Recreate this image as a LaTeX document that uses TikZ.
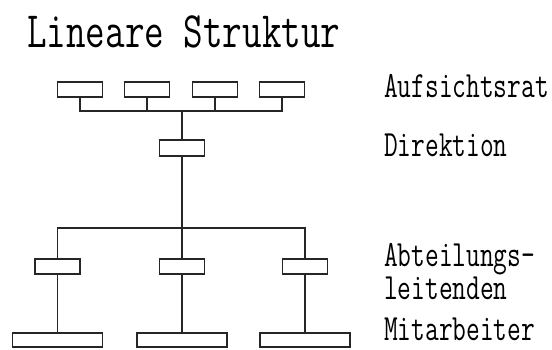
\documentclass[tikz,border=0pt]{standalone}
\usepackage{fontspec}
\tikzset{
  unit/.style={draw=black!85, line width=1.2pt, minimum height=15pt, inner sep=0pt, outer sep=0pt},
  small/.style={unit, minimum width=45pt},
  wide/.style={unit, minimum width=90pt, minimum height=14pt},
  link/.style={draw=black!85, line width=1.2pt},
  caption/.style={anchor=base west, inner sep=0pt, align=left,
    font=\ttfamily\fontsize{37}{26}\selectfont},
  heading/.style={anchor=base west, inner sep=0pt, font=\ttfamily\fontsize{51}{51}\selectfont}
}
\newcommand{\narrow}[1]{\scalebox{0.72}[1]{#1}}
\begin{document}
\begin{tikzpicture}[x=1pt, y=-1pt]
  \useasboundingbox (0,0) rectangle (552,349);

  % title
  \node[heading] (title) at (27,47) {\scalebox{0.745}[1]{Lineare Struktur}};

  % supervisory board
  \node[small] (a1) at (80,89.5) {};
  \node[small] (a2) at (147,89.5) {};
  \node[small] (a3) at (215,89.5) {};
  \node[small] (a4) at (282,89.5) {};
  \coordinate (topbar) at (182,111);

  % board of directors
  \node[small, minimum height=16pt] (dir) at (182,148) {};

  % department heads
  \coordinate (midbar) at (182,228);
  \node[small] (b1) at (57.5,266.5) {};
  \node[small] (b2) at (182,266.5) {};
  \node[small] (b3) at (305,266.5) {};

  % staff
  \node[wide] (c1) at (57.5,340) {};
  \node[wide] (c2) at (182,340) {};
  \node[wide] (c3) at (305,340) {};

  % connectors
  \draw[link] (a1.south) -- (a1.south |- topbar) -- (a4.south |- topbar) -- (a4.south);
  \draw[link] (a2.south) -- (a2.south |- topbar);
  \draw[link] (a3.south) -- (a3.south |- topbar);
  \draw[link] (topbar) -- (dir.north);
  \draw[link] (dir.south) -- (b2.north);
  \draw[link] (b1.north) -- (b1.north |- midbar) -- (b3.north |- midbar) -- (b3.north);
  \draw[link] (b1.south) -- (c1.north);
  \draw[link] (b2.south) -- (c2.north);
  \draw[link] (b3.south) -- (c3.north);

  % level captions
  \node[caption] (l1) at (384,97) {\narrow{Aufsichtsrat}};
  \node[caption] (l2) at (384,156) {\narrow{Direktion}};
  \node[caption] (l3) at (384,299) {\narrow{Abteilungs-}\\\narrow{leitenden}};
  \node[caption] (l5) at (384,340) {\narrow{Mitarbeiter}};
\end{tikzpicture}
\end{document}
